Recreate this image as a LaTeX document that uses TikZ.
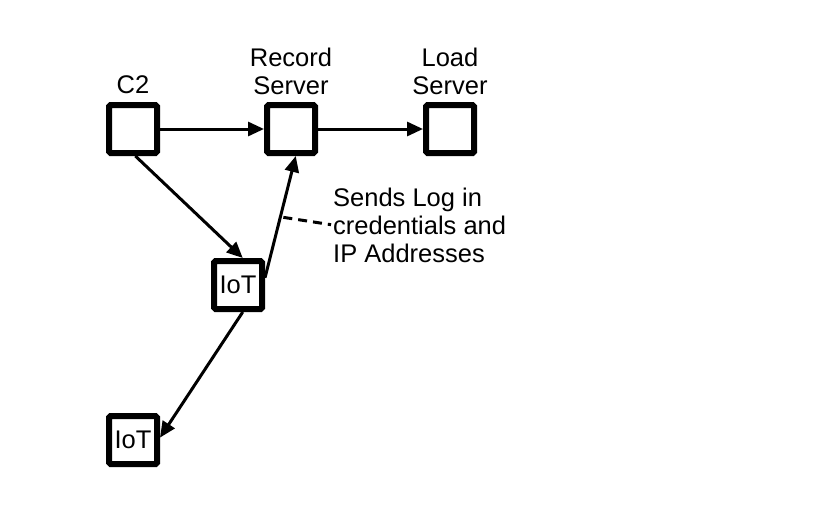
\documentclass[tikz,border=0pt]{standalone}
\usepackage{fontspec}
\setmainfont{Liberation Sans}
\usetikzlibrary{arrows.meta}

\begin{document}
\begin{tikzpicture}[x=1pt,y=-1pt,
  box/.style={draw,line width=6pt,rounded corners=1.5pt,minimum size=48pt,
    inner sep=0pt,font=\fontsize{25.5}{28}\selectfont},
  lbl/.style={align=center,inner sep=0pt,font=\fontsize{25.5}{28}\selectfont},
  link/.style={line width=3pt,-{Triangle[length=16pt,width=14pt]}}]
\useasboundingbox (0,0) rectangle (816,514);
% boxes
\node[box] (c2) at (133,129) {};
\node[box] (rec) at (291,129) {};
\node[box] (load) at (450,129) {};
\node[box] (iotA) at (238,285) {IoT};
\node[box] (iotB) at (133,440) {IoT};
% titles
\node[lbl] (c2t) at (133,85) {C2};
\node[lbl] (rect) at (291,71) {Record\\Server};
\node[lbl] (loadt) at (450,71) {Load\\Server};
\node[lbl,align=left,anchor=west] (note) at (333,225)
  {Sends Log in\\credentials and\\IP Addresses};
% links
\draw[link] (c2) -- (rec);
\draw[link] (rec) -- (load);
\draw[link] (c2.-85) -- (iotA.80);
\draw[link] (iotA.15) -- coordinate[pos=0.5] (tap) (rec.-80);
\draw[link] (iotA.-80) -- (iotB.5);
\draw[line width=3pt,dash pattern=on 9pt off 6pt,shorten <=3pt,shorten >=2pt]
  (tap) -- (note.west);
\end{tikzpicture}
\end{document}
